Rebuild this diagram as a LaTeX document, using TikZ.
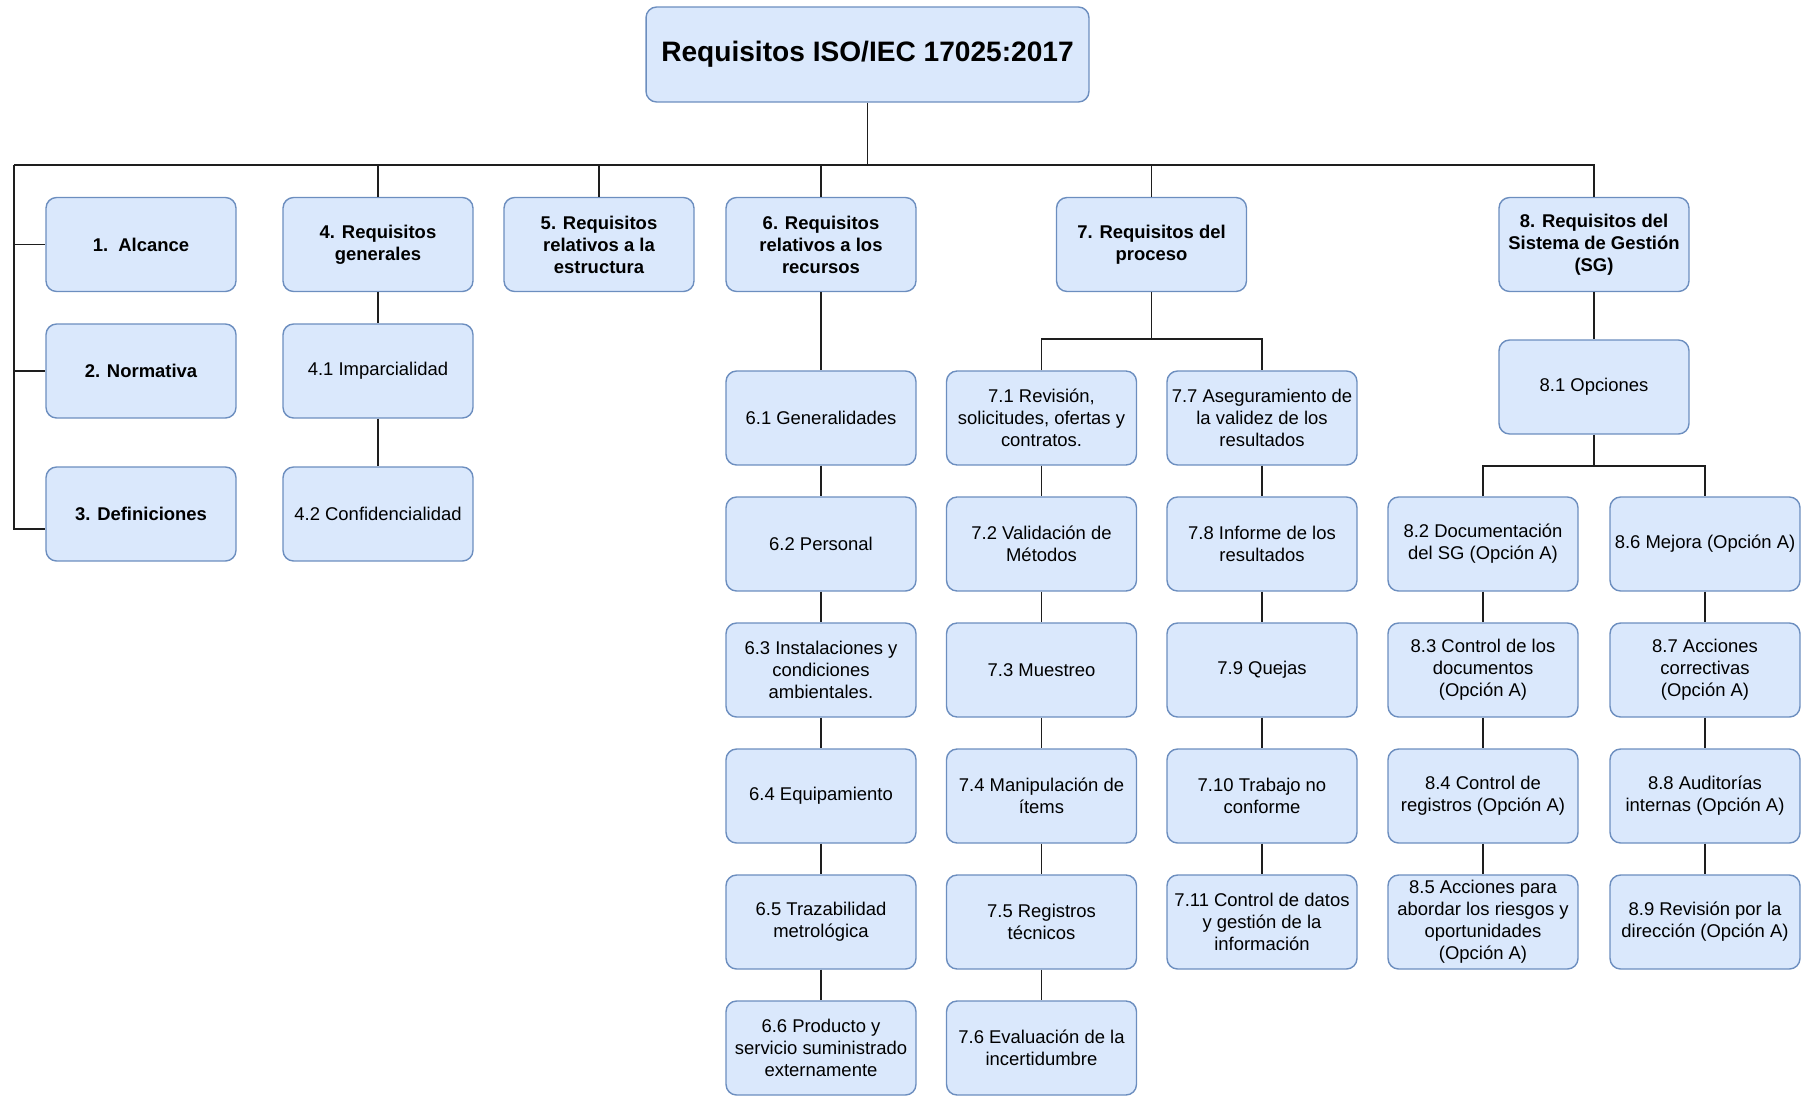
\documentclass[tikz,border=0pt]{standalone}
\usepackage{fontspec}
\setmainfont{Liberation Sans}
\definecolor{boxfill}{HTML}{DAE8FC}
\definecolor{boxline}{HTML}{6C8EBF}
\definecolor{linec}{HTML}{1E1E1E}
\begin{document}
\begin{tikzpicture}[x=0.02cm,y=-0.02cm,
  box/.style={draw=boxline,fill=boxfill,line width=0.8pt,rounded corners=6pt,minimum width=3.8cm,minimum height=1.88cm,align=center,inner sep=0pt,font=\fontsize{10.5}{12.5}\selectfont},
  head/.style={box,font=\fontsize{10.5}{12.5}\selectfont\bfseries},
  link/.style={draw=linec,line width=0.8pt}]
\useasboundingbox (0,0) rectangle (1813,1096);
\node[box,minimum width=8.86cm,minimum height=1.9cm,font=\fontsize{16}{19}\selectfont\bfseries] (root) at (867.5,54.5) {Requisitos ISO/IEC 17025:2017};
% clauses 1 to 8
\node[head] (s1) at (141,244.5) {1.\ \ Alcance};
\node[head] (s2) at (141,371) {2. Normativa};
\node[head] (s3) at (141,514) {3. Definiciones};
\node[head] (s4) at (378,244.5) {4. Requisitos\\generales};
\node[box] (s41) at (378,371) {4.1 Imparcialidad};
\node[box] (s42) at (378,514) {4.2 Confidencialidad};
\node[head] (s5) at (599,244.5) {5. Requisitos\\relativos a la\\estructura};
\node[head] (s6) at (821,244.5) {6. Requisitos\\relativos a los\\recursos};
\node[head] (s7) at (1151.5,244.5) {7. Requisitos del\\proceso};
\node[head] (s8) at (1594,244.5) {8. Requisitos del\\Sistema de Gestión\\(SG)};
\node[box] (s81) at (1594,387) {8.1 Opciones};
% sub-clauses
\foreach \n/\y/\t in {1/418/{6.1 Generalidades},2/544/{6.2 Personal},3/670/{6.3 Instalaciones y\\condiciones\\ambientales.},4/796/{6.4 Equipamiento},5/922/{6.5 Trazabilidad\\metrológica},6/1048/{6.6 Producto y\\servicio suministrado\\externamente}} {\node[box] (s6\n) at (821,\y) {\t};}
\foreach \n/\y/\t in {1/418/{7.1 Revisión,\\solicitudes, ofertas y\\contratos.},2/544/{7.2 Validación de\\Métodos},3/670/{7.3 Muestreo},4/796/{7.4 Manipulación de\\ítems},5/922/{7.5 Registros\\técnicos},6/1048/{7.6 Evaluación de la\\incertidumbre}} {\node[box] (s7\n) at (1041.5,\y) {\t};}
\foreach \n/\y/\t in {7/418/{7.7 Aseguramiento de\\la validez de los\\resultados},8/544/{7.8 Informe de los\\resultados},9/670/{7.9 Quejas},10/796/{7.10 Trabajo no\\conforme},11/922/{7.11 Control de datos\\y gestión de la\\información}} {\node[box] (s7\n) at (1262,\y) {\t};}
\foreach \n/\y/\t in {2/544/{8.2 Documentación\\del SG (Opción A)},3/670/{8.3 Control de los\\documentos\\(Opción A)},4/796/{8.4 Control de\\registros (Opción A)},5/922/{8.5 Acciones para\\abordar los riesgos y\\oportunidades\\(Opción A)}} {\node[box] (s8\n) at (1483,\y) {\t};}
\foreach \n/\y/\t in {6/544/{8.6 Mejora (Opción A)},7/670/{8.7 Acciones\\correctivas\\(Opción A)},8/796/{8.8 Auditorías\\internas (Opción A)},9/922/{8.9 Revisión por la\\dirección (Opción A)}} {\node[box] (s8\n) at (1705,\y) {\t};}
% connectors
\coordinate (trunk) at (14,165);
\coordinate (low) at (14,529);
\coordinate (b7) at (1151.5,339);
\coordinate (b8) at (1594,466);
\draw[link] (root.south) -- (root.south |- trunk);
\draw[link] (trunk) -| (s8.north);
\foreach \s in {s4,s5,s6,s7} {\draw[link] (\s.north) -- (\s.north |- trunk);}
\draw[link] (trunk) -- (low) -- (low -| s3.west);
\draw[link] (s1.west -| trunk) -- (s1.west);
\draw[link] (s2.west -| trunk) -- (s2.west);
\draw[link] (s4) -- (s41) -- (s42);
\draw[link] (s6) -- (s61) -- (s62) -- (s63) -- (s64) -- (s65) -- (s66);
\draw[link] (s7) -- (b7);
\draw[link] (s71.north) |- (b7) -| (s77.north);
\draw[link] (s71) -- (s72) -- (s73) -- (s74) -- (s75) -- (s76);
\draw[link] (s77) -- (s78) -- (s79) -- (s710) -- (s711);
\draw[link] (s8) -- (s81) -- (b8);
\draw[link] (s82.north) |- (b8) -| (s86.north);
\draw[link] (s82) -- (s83) -- (s84) -- (s85);
\draw[link] (s86) -- (s87) -- (s88) -- (s89);
\end{tikzpicture}
\end{document}
